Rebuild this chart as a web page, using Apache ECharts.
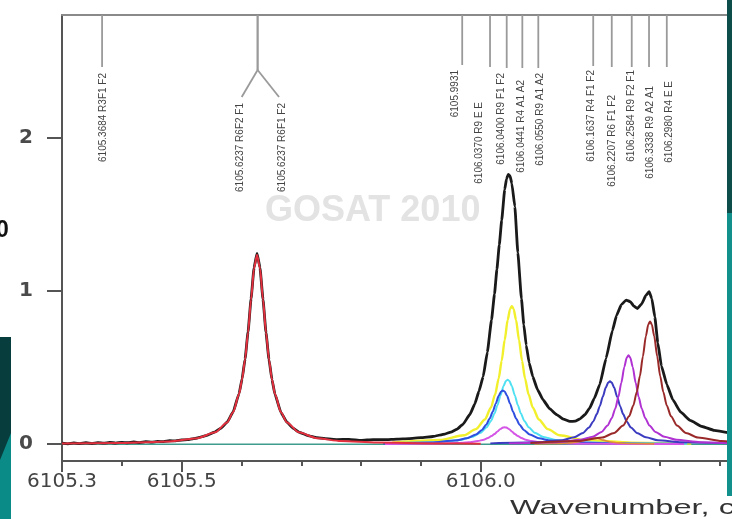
<!DOCTYPE html>
<html><head><meta charset="utf-8">
<script src="https://cdn.jsdelivr.net/npm/echarts@6/dist/echarts.min.js"></script>
<style>html,body{margin:0;padding:0;background:#fff}#c{width:732px;height:519px}</style>
</head><body><div id="c"></div>
<script>
// ---- axis ticks / labels ----
const xTickLabels = [6105.3, 6105.5, 6106.0];
const xMajorTicks = [6105.3, 6105.5, 6106.0];
const xMinorTicks = [6105.4, 6105.6, 6105.7, 6105.8, 6105.9, 6106.1, 6106.2, 6106.3, 6106.4];
const yTicks = [0, 1, 2];

// ---- observed spectrum (black) ----
const obsX = [6105.30,6105.31,6105.32,6105.33,6105.34,6105.35,6105.36,6105.37,6105.38,6105.39,6105.40,6105.41,6105.42,6105.43,6105.44,6105.45,6105.46,6105.47,6105.48,6105.49,6105.50,6105.51,6105.52,6105.526,6105.541,6105.556,6105.566,6105.576,6105.586,6105.596,6105.601,6105.606,6105.611,6105.616,6105.621,6105.626,6105.631,6105.636,6105.641,6105.646,6105.651,6105.656,6105.666,6105.676,6105.686,6105.696,6105.711,6105.726,6105.74,6105.76,6105.78,6105.80,6105.82,6105.84,6105.86,6105.88,6105.90,6105.92,6105.94,6105.95,6105.96,6105.97,6105.982,6105.99,6105.997,6106.004,6106.011,6106.018,6106.023,6106.027,6106.031,6106.035,6106.040,6106.043,6106.046,6106.049,6106.052,6106.057,6106.062,6106.068,6106.072,6106.076,6106.081,6106.087,6106.095,6106.104,6106.115,6106.127,6106.138,6106.149,6106.158,6106.166,6106.174,6106.182,6106.190,6106.199,6106.2095,6106.220,6106.227,6106.235,6106.243,6106.250,6106.256,6106.262,6106.269,6106.276,6106.2815,6106.286,6106.291,6106.296,6106.302,6106.311,6106.321,6106.334,6106.350,6106.370,6106.390,6106.420];
const obsY = [0.006,0.002,0.008,0.003,0.009,0.004,0.010,0.006,0.011,0.007,0.012,0.009,0.014,0.010,0.016,0.013,0.018,0.016,0.022,0.021,0.027,0.029,0.036,0.040,0.056,0.080,0.105,0.143,0.210,0.330,0.425,0.555,0.732,0.948,1.150,1.245,1.150,0.945,0.728,0.552,0.421,0.326,0.207,0.143,0.105,0.079,0.056,0.042,0.036,0.030,0.031,0.024,0.030,0.029,0.033,0.036,0.042,0.050,0.066,0.079,0.097,0.128,0.195,0.262,0.345,0.440,0.600,0.810,0.980,1.140,1.300,1.460,1.660,1.730,1.760,1.750,1.700,1.550,1.250,0.950,0.780,0.645,0.530,0.440,0.355,0.290,0.232,0.192,0.163,0.148,0.150,0.165,0.192,0.235,0.300,0.390,0.560,0.740,0.840,0.910,0.940,0.930,0.900,0.885,0.915,0.970,0.995,0.950,0.830,0.660,0.510,0.390,0.290,0.210,0.155,0.115,0.090,0.070];

// ---- fitted components ----
const redX = [6105.30,6105.40,6105.48,6105.526,6105.556,6105.576,6105.586,6105.596,6105.601,6105.606,6105.611,6105.616,6105.621,6105.626,6105.631,6105.636,6105.641,6105.646,6105.651,6105.656,6105.666,6105.676,6105.696,6105.726,6105.766,6105.826,6105.926,6106.0];
const redY = [0.004,0.008,0.018,0.039,0.077,0.142,0.208,0.327,0.422,0.553,0.729,0.944,1.146,1.235,1.146,0.944,0.729,0.553,0.422,0.327,0.208,0.142,0.077,0.039,0.020,0.010,0.004,0.003];

const yellowX = [6105.852,6105.932,6105.972,6105.992,6106.007,6106.017,6106.024,6106.030,6106.035,6106.040,6106.045,6106.049,6106.052,6106.055,6106.059,6106.064,6106.069,6106.074,6106.080,6106.087,6106.097,6106.112,6106.132,6106.172,6106.252,6106.352];
const yellowY = [0.010,0.027,0.058,0.098,0.161,0.239,0.324,0.429,0.544,0.679,0.810,0.882,0.900,0.882,0.810,0.679,0.544,0.429,0.324,0.239,0.161,0.098,0.058,0.027,0.010,0.004];

const cyanX = [6105.845,6105.925,6105.965,6105.985,6106.000,6106.010,6106.017,6106.023,6106.028,6106.033,6106.038,6106.042,6106.045,6106.048,6106.052,6106.057,6106.062,6106.067,6106.073,6106.080,6106.090,6106.105,6106.125,6106.165,6106.245,6106.345];
const cyanY = [0.005,0.012,0.027,0.046,0.075,0.111,0.151,0.200,0.254,0.317,0.378,0.412,0.420,0.412,0.378,0.317,0.254,0.200,0.151,0.111,0.075,0.046,0.027,0.012,0.005,0.002];

const blueX = [6105.837,6105.917,6105.957,6105.977,6105.992,6106.002,6106.009,6106.015,6106.020,6106.025,6106.030,6106.034,6106.037,6106.040,6106.044,6106.049,6106.054,6106.059,6106.065,6106.072,6106.082,6106.097,6106.117,6106.157,6106.237,6106.337];
const blueY = [0.004,0.010,0.023,0.038,0.063,0.093,0.126,0.167,0.211,0.264,0.315,0.343,0.350,0.343,0.315,0.264,0.211,0.167,0.126,0.093,0.063,0.038,0.023,0.010,0.004,0.002];

const pinkX = [6105.840,6105.920,6105.960,6105.980,6105.995,6106.005,6106.012,6106.018,6106.023,6106.028,6106.033,6106.037,6106.040,6106.043,6106.047,6106.052,6106.057,6106.062,6106.068,6106.075,6106.085,6106.100,6106.120,6106.160,6106.240,6106.340];
const pinkY = [0.001,0.003,0.007,0.012,0.020,0.029,0.040,0.053,0.066,0.083,0.099,0.108,0.110,0.108,0.099,0.083,0.066,0.053,0.040,0.029,0.020,0.012,0.007,0.003,0.001,0.001];

const navyX = [6106.016,6106.096,6106.136,6106.156,6106.171,6106.181,6106.188,6106.194,6106.199,6106.204,6106.209,6106.213,6106.216,6106.219,6106.223,6106.228,6106.233,6106.238,6106.244,6106.251,6106.261,6106.276,6106.296,6106.336,6106.416];
const navyY = [0.005,0.012,0.026,0.045,0.073,0.109,0.148,0.196,0.248,0.309,0.369,0.402,0.410,0.402,0.369,0.309,0.248,0.196,0.148,0.109,0.073,0.045,0.026,0.012,0.005];

const purpleX = [6106.047,6106.127,6106.167,6106.187,6106.202,6106.212,6106.219,6106.225,6106.230,6106.235,6106.240,6106.244,6106.247,6106.250,6106.254,6106.259,6106.264,6106.269,6106.275,6106.282,6106.292,6106.307,6106.327,6106.367,6106.420];
const purpleY = [0.005,0.013,0.028,0.048,0.080,0.121,0.169,0.233,0.307,0.401,0.504,0.564,0.580,0.564,0.504,0.401,0.307,0.233,0.169,0.121,0.080,0.048,0.028,0.013,0.006];

const brownX = [6106.083,6106.163,6106.203,6106.223,6106.238,6106.248,6106.255,6106.261,6106.266,6106.271,6106.276,6106.280,6106.283,6106.286,6106.290,6106.295,6106.300,6106.305,6106.311,6106.318,6106.328,6106.343,6106.363,6106.403,6106.420];
const brownY = [0.007,0.020,0.043,0.073,0.121,0.182,0.252,0.342,0.444,0.572,0.704,0.781,0.800,0.781,0.704,0.572,0.444,0.342,0.252,0.182,0.121,0.073,0.043,0.020,0.015];

const orangeX = [6106.09,6106.13,6106.15,6106.165,6106.175,6106.185,6106.19,6106.195,6106.205,6106.215,6106.23,6106.25,6106.29];
const orangeY = [0.002,0.004,0.008,0.016,0.026,0.038,0.040,0.038,0.026,0.016,0.008,0.004,0.002];

const baseX = [6105.30, 6106.42];
const baseY = [0, 0];

// ---- line assignments (stick annotations) ----
const annLabels = ['6105.3684 R3F1 F2','6105.6237 R6F2 F1','6105.6237 R6F1 F2','6105.9931','6106.0370 R9 E E','6106.0400 R9 F1 F2','6106.0441 R4 A1 A2','6106.0550 R9 A1 A2','6106.1637 R4 F1 F2','6106.2207 R6 F1 F2','6106.2584 R9 F2 F1','6106.3338 R9 A2 A1','6106.2980 R4 E E'];
const annStem = [6105.367,6105.627,6105.627,6105.969,6106.0155,6106.0434,6106.0695,6106.0962,6106.188,6106.219,6106.2524,6106.2813,6106.311];
const annTip  = [6105.367,6105.6004,6105.6628,6105.969,6106.0155,6106.0434,6106.0695,6106.0962,6106.188,6106.219,6106.2524,6106.2813,6106.311];
// layout (pixels)
const annStemEnd = [67,70,70,65,67,68,68,68,66,67,67,67,67];
const annTipEnd  = [67,97,97,65,67,68,68,68,66,67,67,67,67];
const annTextTop = [73,103,103,70,102,73,80,73,70,95,70,86,81];
const annTextDx  = [1.5,-1.7,3,-6.5,-11,-5,-0.6,1.7,-1.6,0,0,1,2.5];

const zip = (xs, ys) => xs.map((x, i) => [x, ys[i]]);
const chart = echarts.init(document.getElementById('c'), null, {renderer: 'canvas'});

function comp(name, xs, ys, color, width, z, smooth) {
  return {
    name, type: 'line', data: zip(xs, ys), showSymbol: false, symbol: 'none',
    smooth: smooth === undefined ? 0.25 : smooth, smoothMonotone: 'x', z: z || 3,
    lineStyle: {color, width: width || 2}, itemStyle: {color}, silent: true
  };
}

const XMIN = 6105.3, XMAX = 6106.42;
const option = {
  backgroundColor: '#ffffff',
  animation: false,
  grid: {left: 62, right: 0, top: 15, bottom: 58, containLabel: false},
  xAxis: [
    {
      type: 'value', min: XMIN, max: XMAX, position: 'bottom',
      axisLine: {show: true, onZero: false, lineStyle: {color: '#555', width: 2}},
      axisTick: {show: true, inside: false, length: 5, customValues: xMinorTicks, lineStyle: {color: '#555', width: 2}},
      axisLabel: {show: true, customValues: xTickLabels, margin: 11, color: '#444',
        fontFamily: 'DejaVu Sans', fontSize: 20, formatter: v => Number(v).toFixed(1)},
      splitLine: {show: false}
    },
    {
      type: 'value', min: XMIN, max: XMAX, position: 'bottom',
      axisLine: {show: false, onZero: false},
      axisTick: {show: true, inside: false, length: 11, customValues: xMajorTicks, lineStyle: {color: '#555', width: 2}},
      axisLabel: {show: false}, splitLine: {show: false}
    },
    {
      type: 'value', min: XMIN, max: XMAX, position: 'top',
      axisLine: {show: true, onZero: false, lineStyle: {color: '#8a8a8a', width: 2}},
      axisTick: {show: false}, axisLabel: {show: false}, splitLine: {show: false}
    }
  ],
  yAxis: {
    type: 'value', min: -0.11, max: 2.8, position: 'left',
    axisLine: {show: true, onZero: false, lineStyle: {color: '#555', width: 2}},
    axisTick: {show: true, inside: false, length: 15, customValues: yTicks, lineStyle: {color: '#555', width: 2}},
    axisLabel: {show: true, customValues: yTicks, margin: 29, color: '#4a4a4a', fontFamily: 'DejaVu Sans', fontSize: 20, fontWeight: 'bold'},
    splitLine: {show: false}
  },
  series: [
    comp('baseline', baseX, baseY, '#3d9c8d', 1.5, 1, false),
    comp('observed', obsX, obsY, '#1a1a1a', 2.8, 2, 0.12),
    comp('6105.6237 R6', redX, redY, '#e4303e', 2, 4),
    comp('6106.0400 R9 F1 F2', yellowX, yellowY, '#f2f02c', 2.4, 3),
    comp('6106.0441 R4 A1 A2', cyanX, cyanY, '#4fe0f2', 2, 3),
    comp('6106.0370 R9 E E', blueX, blueY, '#2f4fe0', 2, 3),
    comp('6106.0550 R9 A1 A2', pinkX, pinkY, '#d455e6', 2, 3),
    comp('6106.1637 R4 F1 F2', orangeX, orangeY, '#e08a3a', 1.6, 3),
    comp('6106.2207 R6 F1 F2', navyX, navyY, '#3c3cc0', 2, 3),
    comp('6106.2584 R9 F2 F1', purpleX, purpleY, '#b032d2', 2, 3),
    comp('6106.2980 R4 E E', brownX, brownY, '#9a2a2a', 2, 3),
    {
      name: 'assignments', type: 'custom', coordinateSystem: 'cartesian2d',
      xAxisIndex: 0, yAxisIndex: 0, clip: false, silent: true, z: 6,
      data: annTip.map((v) => [v, 0]), encode: {x: 0, y: 1},
      renderItem: function (params, api) {
        const i = params.dataIndex;
        const sx = api.coord([annStem[i], 0])[0];
        const tx = api.coord([annTip[i], 0])[0];
        const top = params.coordSys.y;
        const ls = {stroke: '#9a9a9a', lineWidth: 1.8};
        const children = [{type: 'line', shape: {x1: sx, y1: top, x2: sx, y2: annStemEnd[i]}, style: ls}];
        if (Math.abs(tx - sx) > 0.5) {
          children.push({type: 'line', shape: {x1: sx, y1: annStemEnd[i], x2: tx, y2: annTipEnd[i]}, style: ls});
        }
        children.push({
          type: 'text', x: tx + annTextDx[i], y: annTextTop[i], rotation: Math.PI / 2,
          style: {text: annLabels[i], fill: '#444', font: '10px "Liberation Sans", Arial, sans-serif',
            align: 'right', verticalAlign: 'middle'}
        });
        return {type: 'group', children};
      }
    }
  ],
  graphic: [
    {type: 'text', x: 265, y: 193, z: 0, silent: true,
      style: {text: 'GOSAT 2010', fill: '#e3e3e3', font: 'bold 36px "Liberation Sans", Arial, sans-serif', verticalAlign: 'top'}},
    {type: 'text', x: 510, y: 498, z: 50, silent: true, scaleX: 1.55,
      style: {text: 'Wavenumber, cm\u207B\u00B9', fill: '#333', font: '21px "Liberation Sans", Arial, sans-serif', verticalAlign: 'top'}},
    {type: 'rect', z: 100, silent: true, shape: {x: 0, y: 337, width: 11, height: 182}, style: {fill: '#073d3c'}},
    {type: 'polygon', z: 101, silent: true, shape: {points: [[0, 460], [11, 433], [11, 519], [0, 519]]}, style: {fill: '#0b8b87'}},
    {type: 'rect', z: 100, silent: true, shape: {x: 727, y: 0, width: 5, height: 213}, style: {fill: '#0d4d4a'}},
    {type: 'rect', z: 100, silent: true, shape: {x: 727, y: 213, width: 5, height: 283}, style: {fill: '#12908b'}},
    {type: 'text', x: -4, y: 219, z: 100, silent: true,
      style: {text: '0', fill: '#111', font: 'bold 23px "Liberation Sans", Arial, sans-serif', verticalAlign: 'top'}}
  ]
};
chart.setOption(option);
</script>
</body></html>
